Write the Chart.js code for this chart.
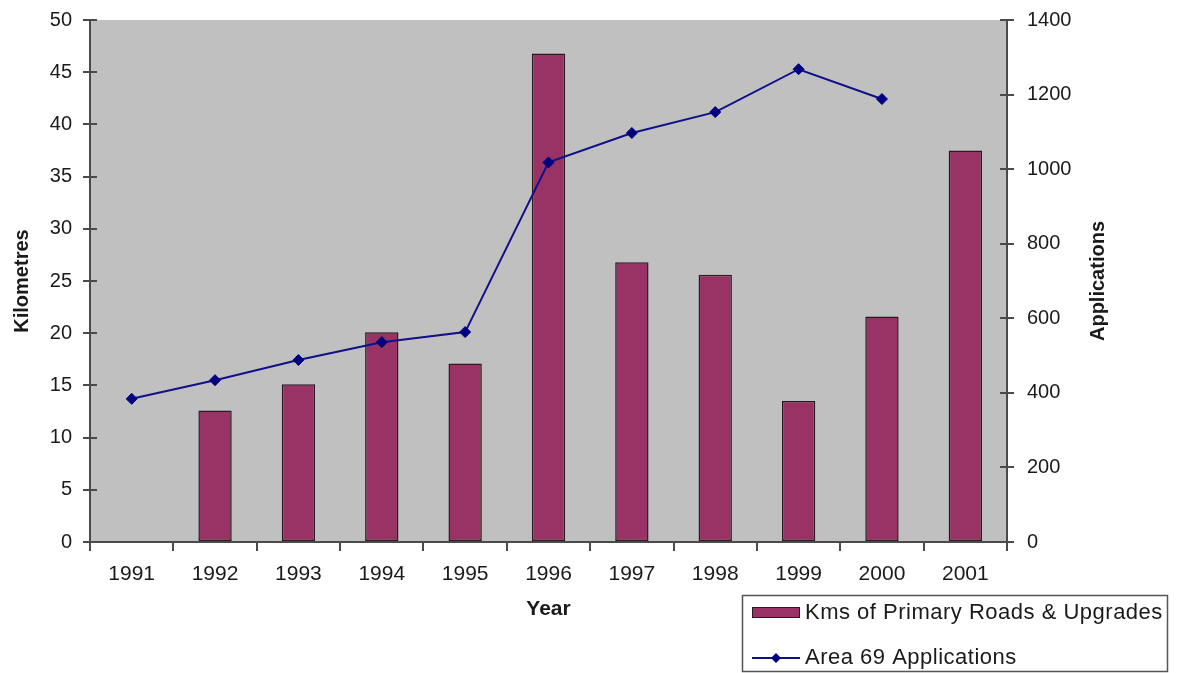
<!DOCTYPE html>
<html>
<head>
<meta charset="utf-8">
<title>Primary roads and Area 69 applications</title>
<script src="https://cdn.jsdelivr.net/npm/chart.js@4.4.1/dist/chart.umd.min.js"></script>
<style>
  html, body { margin: 0; padding: 0; background: #ffffff; }
  #wrap { width: 1179px; height: 673px; position: relative; }
</style>
</head>
<body>
<div id="wrap"><canvas id="chart" width="1179" height="673"></canvas></div>
<script>
// Years on the category axis
const years = ['1991', '1992', '1993', '1994', '1995', '1996', '1997', '1998', '1999', '2000', '2001'];
// Kilometres of primary roads & upgrades (left axis)
const kmsRoads = [null, 12.6, 15.1, 20.1, 17.1, 46.8, 26.8, 25.6, 13.5, 21.6, 37.5];
// Area 69 applications (right axis)
const applications = [384, 434, 488, 536, 563, 1018, 1097, 1153, 1268, 1188, null];
// Axis ranges / steps
const kmAxis = { min: 0, max: 50, step: 5 };
const appAxis = { min: 0, max: 1400, step: 200 };
// Series names
const roadsName = 'Kms of Primary Roads & Upgrades';
const appsName = 'Area 69 Applications';

const FONT = "'Liberation Sans', Arial, sans-serif";
const TEXT = '#1a1a1a';
const AXIS = '#4a4a4a';
const BAR = '#993366';
const LINE = '#10108a';

// grey plot-area fill
const plotFill = {
  id: 'plotFill',
  beforeDraw(chart) {
    const { ctx, chartArea: a } = chart;
    ctx.save();
    ctx.fillStyle = '#c0c0c0';
    ctx.fillRect(a.left, a.top, a.right - a.left, a.bottom - a.top);
    ctx.restore();
  }
};

// tick marks that cross the axis line into the plot area
const crossTicks = {
  id: 'crossTicks',
  afterDraw(chart) {
    const { ctx, chartArea: a, scales } = chart;
    ctx.save();
    ctx.strokeStyle = AXIS;
    ctx.lineWidth = 2;
    ctx.beginPath();
    scales.yKm.ticks.forEach((t, i) => {
      const y = Math.round(scales.yKm.getPixelForTick(i));
      ctx.moveTo(a.left, y); ctx.lineTo(a.left + 7, y);
    });
    scales.yApp.ticks.forEach((t, i) => {
      const y = Math.round(scales.yApp.getPixelForTick(i));
      ctx.moveTo(a.right, y); ctx.lineTo(a.right - 7, y);
    });
    ctx.stroke();
    ctx.restore();
  }
};

// right-hand axis title, reading bottom to top
const rightTitle = {
  id: 'rightTitle',
  afterDraw(chart) {
    const { ctx, chartArea: a } = chart;
    ctx.save();
    ctx.translate(1098, (a.top + a.bottom) / 2);
    ctx.rotate(-Math.PI / 2);
    ctx.font = 'bold 20px ' + FONT;
    ctx.fillStyle = TEXT;
    ctx.textAlign = 'center';
    ctx.textBaseline = 'middle';
    ctx.fillText('Applications', 0, 0);
    ctx.restore();
  }
};

// boxed legend at the lower right
const boxLegend = {
  id: 'boxLegend',
  afterDraw(chart) {
    const { ctx } = chart;
    const bars = chart.data.datasets.find(d => d.type === 'bar');
    const line = chart.data.datasets.find(d => d.type === 'line');
    const x0 = 742, y0 = 595, x1 = 1167, y1 = 671;
    ctx.save();
    ctx.fillStyle = '#ffffff';
    ctx.fillRect(x0, y0, x1 - x0, y1 - y0);
    ctx.strokeStyle = '#555555';
    ctx.lineWidth = 1.5;
    ctx.strokeRect(x0 + 0.5, y0 + 0.5, x1 - x0, y1 - y0);

    // bar entry
    ctx.fillStyle = bars.backgroundColor;
    ctx.fillRect(752, 607, 48, 11);
    ctx.strokeStyle = bars.borderColor;
    ctx.lineWidth = 1;
    ctx.strokeRect(752.5, 607.5, 47, 10);

    // line entry
    ctx.strokeStyle = line.borderColor;
    ctx.lineWidth = 2;
    ctx.beginPath();
    ctx.moveTo(752, 658); ctx.lineTo(800, 658);
    ctx.stroke();
    ctx.fillStyle = line.pointBackgroundColor;
    ctx.beginPath();
    ctx.moveTo(776, 653); ctx.lineTo(781, 658); ctx.lineTo(776, 663); ctx.lineTo(771, 658);
    ctx.closePath();
    ctx.fill();

    ctx.fillStyle = TEXT;
    ctx.font = '22px ' + FONT;
    if ('letterSpacing' in ctx) ctx.letterSpacing = '0.5px';
    ctx.textAlign = 'left';
    ctx.textBaseline = 'middle';
    ctx.fillText(bars.label, 805, 613);
    ctx.fillText(line.label, 805, 658);
    ctx.restore();
  }
};

// keep the plot area edges fixed: no extra room for half-height end labels
function fixVertical(width) {
  return s => { s.width = width; s.paddingTop = 0; s.paddingBottom = 0; };
}

new Chart(document.getElementById('chart'), {
  data: {
    labels: years,
    datasets: [
      {
        type: 'line',
        label: appsName,
        data: applications,
        yAxisID: 'yApp',
        borderColor: LINE,
        borderWidth: 2,
        pointStyle: 'rectRot',
        pointRadius: 5.5,
        pointBackgroundColor: '#000080',
        pointBorderColor: '#000080',
        pointBorderWidth: 1,
        tension: 0,
        spanGaps: false,
        order: 0
      },
      {
        type: 'bar',
        label: roadsName,
        data: kmsRoads,
        yAxisID: 'yKm',
        backgroundColor: BAR,
        borderColor: '#2a1a22',
        borderWidth: 1.5,
        borderSkipped: false,
        barPercentage: 0.4,
        categoryPercentage: 1.0,
        order: 1
      }
    ]
  },
  options: {
    responsive: false,
    animation: false,
    devicePixelRatio: 1,
    layout: { padding: { top: 20, left: 0, right: 0, bottom: 0 } },
    plugins: {
      legend: { display: false },
      tooltip: { enabled: false },
      title: { display: false }
    },
    scales: {
      x: {
        type: 'category',
        offset: true,
        afterFit(s) { s.height = 131; },
        grid: { offset: true, drawOnChartArea: false, drawTicks: true, tickLength: 9, color: AXIS, lineWidth: 2 },
        border: { display: true, color: AXIS, width: 2 },
        ticks: { color: TEXT, font: { family: FONT, size: 21 }, padding: 11, autoSkip: false, maxRotation: 0 },
        title: { display: true, text: 'Year', color: TEXT, font: { family: FONT, size: 21, weight: 'bold' }, padding: { top: 0, bottom: 51 } }
      },
      yKm: {
        type: 'linear',
        position: 'left',
        min: kmAxis.min,
        max: kmAxis.max,
        afterFit: fixVertical(90),
        grid: { drawOnChartArea: false, drawTicks: true, tickLength: 7, color: AXIS, lineWidth: 2 },
        border: { display: true, color: AXIS, width: 2 },
        ticks: { stepSize: kmAxis.step, color: TEXT, font: { family: FONT, size: 20 }, padding: 11 },
        title: { display: true, text: 'Kilometres', color: TEXT, font: { family: FONT, size: 20, weight: 'bold' }, padding: { top: 10, bottom: 0 } }
      },
      yApp: {
        type: 'linear',
        position: 'right',
        min: appAxis.min,
        max: appAxis.max,
        afterFit: fixVertical(172),
        grid: { drawOnChartArea: false, drawTicks: true, tickLength: 7, color: AXIS, lineWidth: 2 },
        border: { display: true, color: AXIS, width: 2 },
        ticks: { stepSize: appAxis.step, color: TEXT, font: { family: FONT, size: 20 }, padding: 13, callback: v => String(v) },
        title: { display: false }
      }
    }
  },
  plugins: [plotFill, crossTicks, rightTitle, boxLegend]
});
</script>
</body>
</html>
